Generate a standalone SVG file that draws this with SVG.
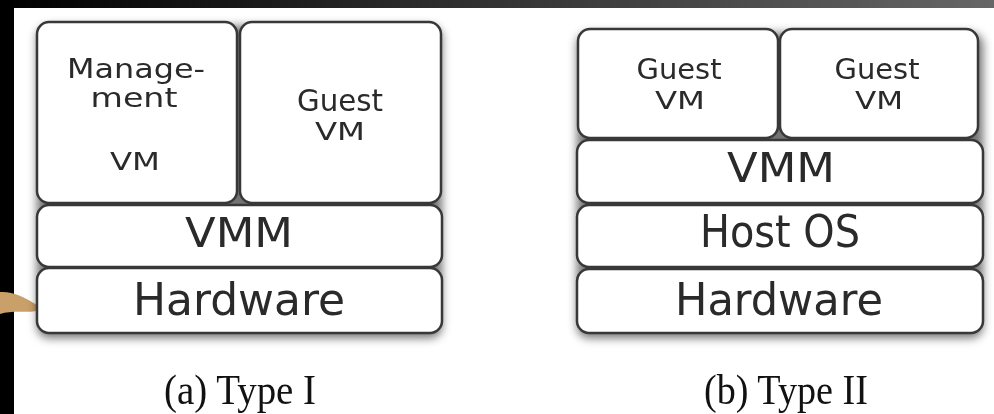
<svg xmlns="http://www.w3.org/2000/svg" width="994" height="414" viewBox="0 0 994 414">
  <defs>
    <linearGradient id="topband" x1="0" y1="0" x2="1" y2="0">
      <stop offset="0" stop-color="#000"/>
      <stop offset="0.5" stop-color="#333"/>
      <stop offset="1" stop-color="#666"/>
    </linearGradient>
    <filter id="shadow" x="-10%" y="-10%" width="120%" height="130%">
      <feGaussianBlur stdDeviation="5"/>
    </filter>
    <style>
      .box { fill: #fff; stroke: #383838; stroke-width: 2.5; }
      .lbl { font-family: "DejaVu Sans", "Liberation Sans", sans-serif; fill: #2a2a2a; text-anchor: middle; }
      .cap { font-family: "Liberation Serif", "Times New Roman", serif; fill: #111; text-anchor: middle; font-size: 43px; }
      .sh { fill: #000; opacity: 0.55; }
    </style>
  </defs>

  <!-- background -->
  <rect x="0" y="0" width="994" height="414" fill="#fff"/>
  <rect x="0" y="0" width="994" height="8" fill="url(#topband)"/>
  <rect x="0" y="0" width="14" height="414" fill="#000"/>
  <path d="M0,292 C12,291 25,297 37,305 L36,311 C25,313 12,310 0,314 Z" fill="#c9a06a"/>

  <!-- shadows -->
  <g filter="url(#shadow)">
    <rect class="sh" x="37" y="26" width="405" height="312" rx="12"/>
    <rect class="sh" x="577" y="33" width="406" height="305" rx="12"/>
  </g>

  <!-- (a) Type I -->
  <g id="mgmt-vm">
    <rect class="box" x="37" y="22" width="200" height="181" rx="12"/>
    <text class="lbl" x="136" y="78" font-size="27" textLength="138" lengthAdjust="spacingAndGlyphs">Manage-</text>
    <text class="lbl" x="134" y="107" font-size="27" textLength="87" lengthAdjust="spacingAndGlyphs">ment</text>
    <text class="lbl" x="135" y="170" font-size="24" textLength="50" lengthAdjust="spacingAndGlyphs">VM</text>
  </g>
  <g id="guest-vm-a">
    <rect class="box" x="240" y="22" width="201" height="181" rx="12"/>
    <text class="lbl" x="340" y="111" font-size="30" textLength="86" lengthAdjust="spacingAndGlyphs">Guest</text>
    <text class="lbl" x="340" y="140" font-size="25" textLength="50" lengthAdjust="spacingAndGlyphs">VM</text>
  </g>
  <g id="vmm-a">
    <rect class="box" x="37" y="205" width="405" height="62" rx="12"/>
    <text class="lbl" x="239" y="247" font-size="41" textLength="108" lengthAdjust="spacingAndGlyphs">VMM</text>
  </g>
  <g id="hardware-a">
    <rect class="box" x="37" y="268" width="405" height="65" rx="12"/>
    <text class="lbl" x="239" y="315" font-size="44" textLength="212" lengthAdjust="spacingAndGlyphs">Hardware</text>
  </g>
  <text id="caption-a" class="cap" x="240" y="404" textLength="152" lengthAdjust="spacingAndGlyphs">(a) Type I</text>

  <!-- (b) Type II -->
  <g id="guest-vm-b1">
    <rect class="box" x="578" y="29" width="200" height="109" rx="12"/>
    <text class="lbl" x="679" y="79" font-size="28" textLength="85" lengthAdjust="spacingAndGlyphs">Guest</text>
    <text class="lbl" x="680" y="109" font-size="25" textLength="50" lengthAdjust="spacingAndGlyphs">VM</text>
  </g>
  <g id="guest-vm-b2">
    <rect class="box" x="780" y="29" width="198" height="109" rx="12"/>
    <text class="lbl" x="877" y="79" font-size="28" textLength="85" lengthAdjust="spacingAndGlyphs">Guest</text>
    <text class="lbl" x="879" y="109" font-size="25" textLength="48" lengthAdjust="spacingAndGlyphs">VM</text>
  </g>
  <g id="vmm-b">
    <rect class="box" x="577" y="140" width="406" height="63" rx="12"/>
    <text class="lbl" x="781" y="182" font-size="41" textLength="108" lengthAdjust="spacingAndGlyphs">VMM</text>
  </g>
  <g id="hostos-b">
    <rect class="box" x="577" y="205" width="406" height="62" rx="12"/>
    <text class="lbl" x="780" y="247" font-size="44" textLength="160" lengthAdjust="spacingAndGlyphs">Host OS</text>
  </g>
  <g id="hardware-b">
    <rect class="box" x="577" y="269" width="406" height="64" rx="12"/>
    <text class="lbl" x="779" y="315" font-size="44" textLength="208" lengthAdjust="spacingAndGlyphs">Hardware</text>
  </g>
  <text id="caption-b" class="cap" x="786" y="404" textLength="164" lengthAdjust="spacingAndGlyphs">(b) Type II</text>

  <g id="connectors"/>
</svg>
